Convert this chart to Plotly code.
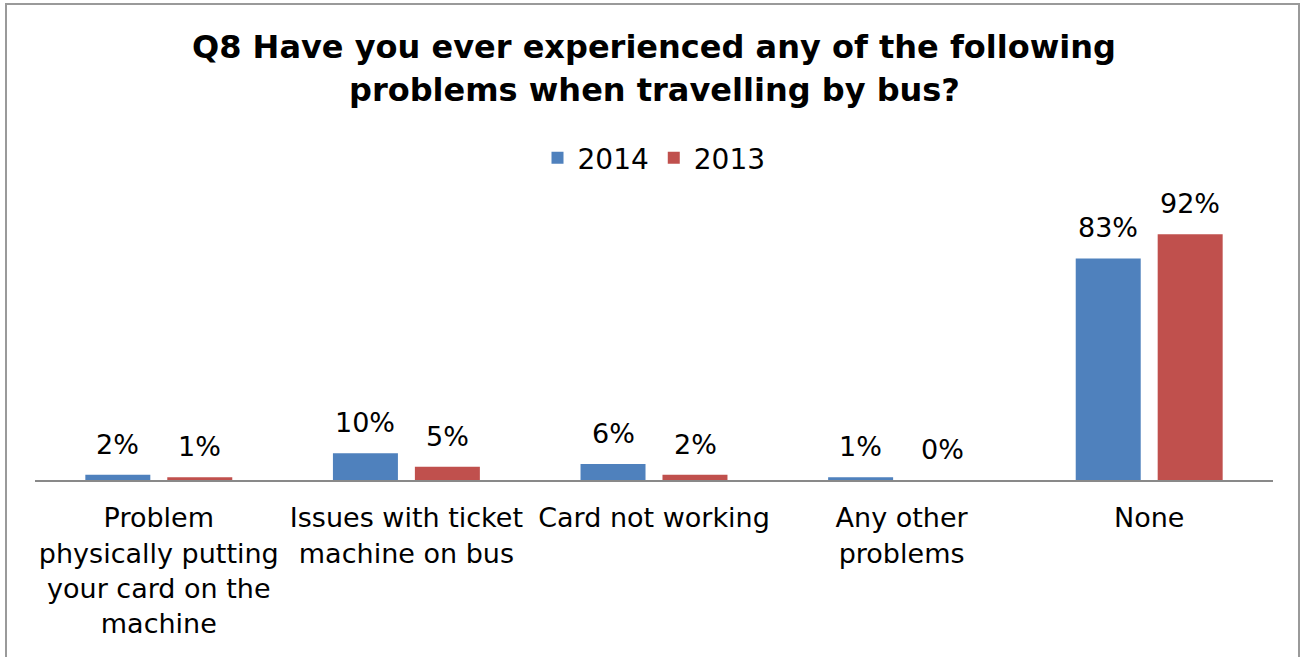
import plotly.graph_objects as go

# Survey categories (line breaks as shown on the axis)
categories = [
    "Problem<br>physically putting<br>your card on the<br>machine",
    "Issues with ticket<br>machine on bus",
    "Card not working",
    "Any other<br>problems",
    "None",
]
values_2014 = [2, 10, 6, 1, 83]
values_2013 = [1, 5, 2, 0, 92]
series_names = ["2014", "2013"]
series_colors = ["#4F81BD", "#C0504D"]

FONT = "DejaVu Sans, Liberation Sans, Arial, sans-serif"
W, H = 1304, 657
M_L, M_R, M_T, M_B = 35, 31, 213, 177
plot_h = H - M_T - M_B


def py(px):
    """Convert a pixel row (from top of the page) to paper y."""
    return (H - M_B - px) / plot_h


def px_x(px):
    plot_w = W - M_L - M_R
    return (px - M_L) / plot_w


fig = go.Figure()
for name, vals, col in zip(series_names, [values_2014, values_2013], series_colors):
    fig.add_trace(go.Bar(
        x=categories, y=vals, name=name,
        marker=dict(color=col, line=dict(width=0)),
    ))

# Value labels above each bar
bar_offset = 41
for vals, shift in [(values_2014, -bar_offset), (values_2013, bar_offset)]:
    for c, v in zip(categories, vals):
        fig.add_annotation(
            x=c, y=v, xref="x", yref="y", text=f"{v}%",
            showarrow=False, xshift=shift, yanchor="bottom", yshift=13,
            font=dict(family=FONT, size=27, color="#000000"),
        )

# Two-line title
title_lines = [
    "Q8 Have you ever experienced any of the following",
    "problems when travelling by bus?",
]
for line, ypx in zip(title_lines, [47, 90]):
    fig.add_annotation(
        x=0.5, y=py(ypx), xref="paper", yref="paper", text=f"<b>{line}</b>",
        showarrow=False, xanchor="center", yanchor="middle", xshift=0,
        font=dict(family=FONT, size=32, color="#000000"),
    )

# Outer chart frame
fig.add_shape(
    type="rect", xref="paper", yref="paper",
    x0=px_x(6), x1=px_x(1299), y0=py(700), y1=py(4),
    line=dict(color="#9a9a9a", width=2), fillcolor="rgba(0,0,0,0)", layer="below",
)

fig.update_layout(
    width=W, height=H,
    margin=dict(l=M_L, r=M_R, t=M_T, b=M_B),
    paper_bgcolor="white", plot_bgcolor="white",
    barmode="group", bargap=0.338, bargroupgap=0.207,
    font=dict(family=FONT, size=27, color="#000000"),
    showlegend=True,
    legend=dict(
        orientation="h", x=0.5, xanchor="center", y=py(158), yanchor="middle",
        font=dict(family=FONT, size=28, color="#000000"),
        itemwidth=30, tracegroupgap=0, bgcolor="rgba(0,0,0,0)",
    ),
    xaxis=dict(
        showline=True, linecolor="#898989", linewidth=2, ticks="",
        showgrid=False, tickfont=dict(family=FONT, size=27, color="#000000"),
        ticklabelstandoff=13,
    ),
    yaxis=dict(
        range=[0, 100], visible=False, showgrid=False, zeroline=False,
    ),
)

fig.write_html("out.html")
